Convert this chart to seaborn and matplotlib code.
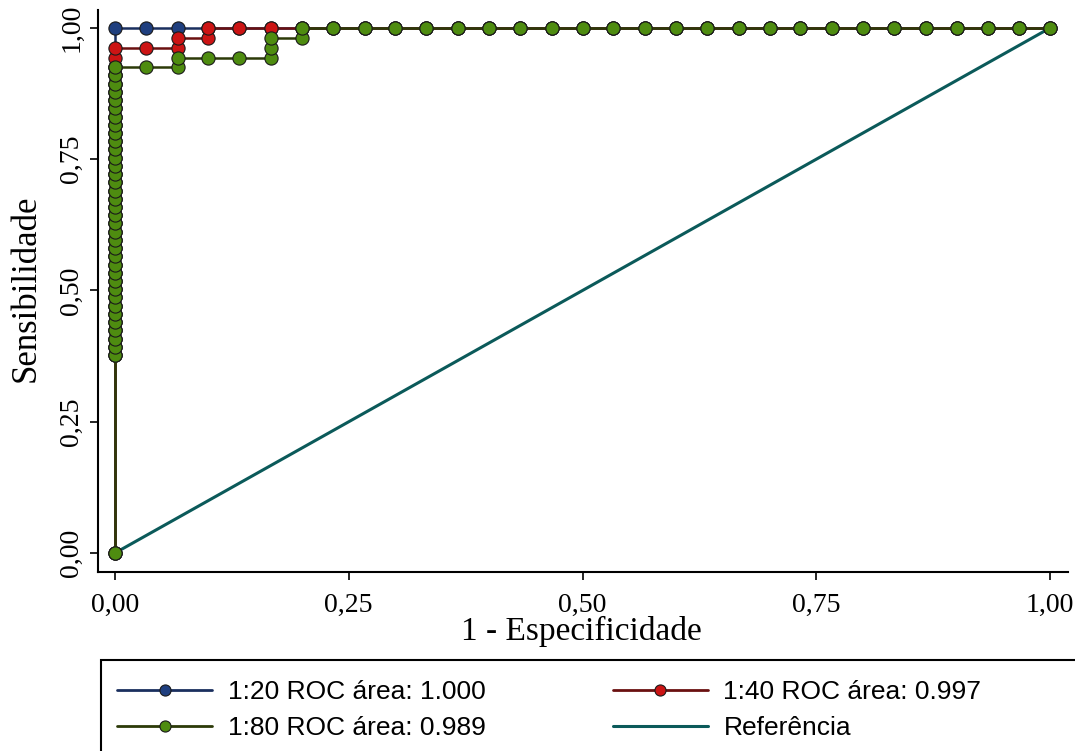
import matplotlib
matplotlib.use("Agg")
import matplotlib.pyplot as plt
from matplotlib.patches import Rectangle
from matplotlib.lines import Line2D
import seaborn as sns
import pandas as pd

sns.set_style("white")
plt.rcParams["font.family"] = ["Liberation Serif", "DejaVu Serif"]
plt.rcParams["text.color"] = "black"
plt.rcParams["axes.labelcolor"] = "black"
plt.rcParams["xtick.color"] = "black"
plt.rcParams["ytick.color"] = "black"

# ---------------- data ----------------
# sensitivity steps stacked at 1 - specificity = 0 (shared lower part of curves)
col_sens = [0.377, 0.393, 0.408, 0.424, 0.440, 0.455, 0.471, 0.487, 0.502, 0.518,
            0.534, 0.549, 0.565, 0.581, 0.596, 0.612, 0.628, 0.643, 0.659, 0.675,
            0.690, 0.706, 0.722, 0.737, 0.753, 0.769, 0.784, 0.800, 0.816, 0.831,
            0.847, 0.863, 0.878, 0.894, 0.910, 0.925]

fpr_grid = [0.033, 0.067, 0.100, 0.133, 0.167, 0.200, 0.233, 0.267, 0.300, 0.333,
            0.367, 0.400, 0.433, 0.467, 0.500, 0.533, 0.567, 0.600, 0.633, 0.667,
            0.700, 0.733, 0.767, 0.800, 0.833, 0.867, 0.900, 0.933, 0.967, 1.000]

# 1:20
y20_head = [1.000]
# 1:40
x40_tail = [0.0, 0.0, 0.033, 0.067, 0.067, 0.100, 0.100]
y40_tail = [0.943, 0.962, 0.962, 0.962, 0.981, 0.981, 1.000]
# 1:80
x80_tail = [0.033, 0.067, 0.067, 0.100, 0.133, 0.167, 0.167, 0.167, 0.200, 0.200]
y80_tail = [0.925, 0.925, 0.943, 0.943, 0.943, 0.943, 0.962, 0.981, 0.981, 1.000]

ref_x = [0.0, 1.0]
ref_y = [0.0, 1.0]

labels = ["1:20 ROC área: 1.000", "1:40 ROC área: 0.997",
          "1:80 ROC área: 0.989", "Referência"]

# build series
grid40 = [v for v in fpr_grid if v > 0.11]
grid80 = [v for v in fpr_grid if v > 0.21]
x20 = [0.0] + [0.0] * len(col_sens) + [0.0] * len(y20_head) + fpr_grid
y20 = [0.0] + col_sens + y20_head + [1.0] * len(fpr_grid)
x40 = [0.0] + [0.0] * len(col_sens) + x40_tail + grid40
y40 = [0.0] + col_sens + y40_tail + [1.0] * len(grid40)
x80 = [0.0] + [0.0] * len(col_sens) + x80_tail + grid80
y80 = [0.0] + col_sens + y80_tail + [1.0] * len(grid80)

# ---------------- figure ----------------
W, H = 1075, 751
fig = plt.figure(figsize=(W / 100, H / 100), dpi=100)
ax = fig.add_axes([98 / W, 1 - 572 / H, 970 / W, 562 / H])

C20 = ("#1a2f5e", "#1f3f7f")
C40 = ("#6a1010", "#cc1414")
C80 = ("#2c3a08", "#4e8c10")
styles = [(x20, y20, C20), (x40, y40, C40), (x80, y80, C80)]
for (xs, ys, (lc, mc)), lab in zip(styles, labels[:3]):
    df = pd.DataFrame({"x": xs, "y": ys})
    sns.lineplot(data=df, x="x", y="y", ax=ax, sort=False, estimator=None,
                 color=lc, lw=1.8, marker="o", markersize=9.5,
                 markerfacecolor=mc, markeredgecolor="#1a1a1a",
                 markeredgewidth=0.8, clip_on=False, zorder=3)

dref = pd.DataFrame({"x": ref_x, "y": ref_y})
sns.lineplot(data=dref, x="x", y="y", ax=ax, color="#0b5a5a", lw=2.2,
             estimator=None, sort=False, zorder=2.5)

ax.set_xlim(-0.018, 1.019)
ax.set_ylim(-0.036, 1.034)
ticks = [0.0, 0.25, 0.5, 0.75, 1.0]
ticklabels = ["0,00", "0,25", "0,50", "0,75", "1,00"]
ax.set_xticks(ticks)
ax.set_xticklabels(ticklabels)
ax.set_yticks(ticks)
ax.set_yticklabels(ticklabels, rotation=90, va="center")
ax.tick_params(axis="both", direction="out", length=6, width=1.2,
               labelsize=20, colors="black", left=True, bottom=True)
ax.tick_params(axis="x", pad=9)
ax.tick_params(axis="y", pad=4)
ax.set_xlabel("")
ax.set_ylabel("")
for s in ["top", "right"]:
    ax.spines[s].set_visible(False)
for s in ["left", "bottom"]:
    ax.spines[s].set_color("black")
    ax.spines[s].set_linewidth(1.5)
ax.grid(False)

fig.text(581 / W, 1 - 631 / H, "1 - Especificidade", ha="center", va="center",
         fontsize=24, color="black")
fig.text(26 / W, 1 - 288 / H, "Sensibilidade", ha="center", va="center",
         rotation=90, fontsize=25, color="black")

# legend
def handle(lc, mc=None):
    if mc is None:
        return Line2D([], [], color=lc, lw=2.2)
    return Line2D([], [], color=lc, lw=2, marker="o", markersize=8,
                  markerfacecolor=mc, markeredgecolor="#1a1a1a", markeredgewidth=0.8)

handles = [handle(*C20), handle(*C80), handle(*C40), handle("#0b5a5a")]
leg_labels = [labels[0], labels[2], labels[1], labels[3]]
fig.legend(handles, leg_labels, ncol=2, loc="upper left",
           bbox_to_anchor=(104 / W, 1 - 667 / H), frameon=False, borderpad=0,
           numpoints=1, handlelength=3.6, handletextpad=0.6, columnspacing=4.8,
           labelspacing=0.45, labelcolor="black",
           prop={"family": ["Liberation Sans", "DejaVu Sans"], "size": 19})
fig.patches.append(Rectangle((101 / W, -0.05), 1.0, 0.05 + (751 - 660) / H,
                             transform=fig.transFigure, fill=False,
                             edgecolor="black", lw=1.5))

fig.savefig("out.png", dpi=100)
